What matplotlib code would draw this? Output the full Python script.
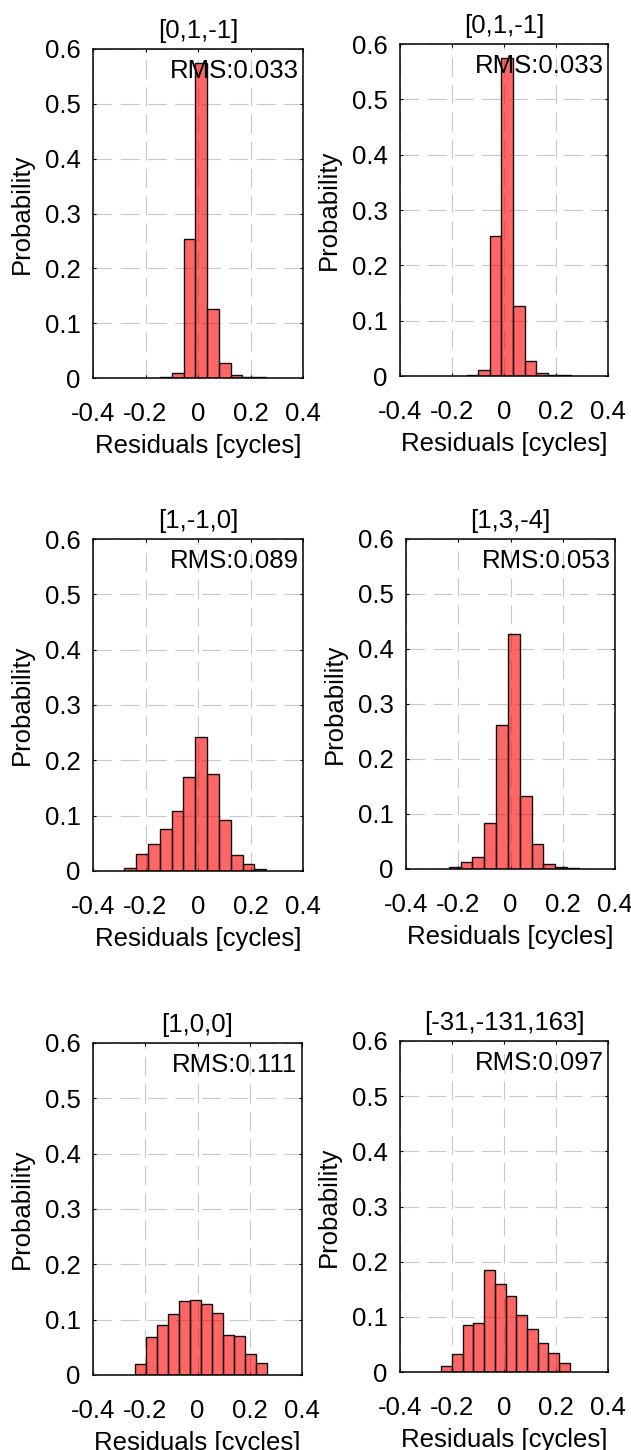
import numpy as np
import matplotlib.pyplot as plt

plt.rcParams['font.family'] = ['Liberation Sans', 'DejaVu Sans']
plt.rcParams['axes.unicode_minus'] = False

# combinations and rms values of the residuals
titles = ['[0,1,-1]', '[0,1,-1]', '[1,-1,0]', '[1,3,-4]', '[1,0,0]', '[-31,-131,163]']
rms = [0.033, 0.033, 0.089, 0.053, 0.111, 0.097]

# histogram bins (left edge of first bin, bin width) and probabilities
bin_start = [-0.1435, -0.1435, -0.2803, -0.2360, -0.2395, -0.2410]
bin_width = [0.0446, 0.0446, 0.0450, 0.0452, 0.0420, 0.0412]

prob_011 = [0.001, 0.010, 0.253, 0.575, 0.126, 0.027, 0.006, 0.002, 0.001]
prob_110 = [0.0054, 0.031, 0.0495, 0.076, 0.1086, 0.170, 0.2425, 0.175,
            0.092, 0.0296, 0.0133, 0.0036]
prob_134 = [0.0036, 0.012, 0.022, 0.084, 0.262, 0.427, 0.133, 0.045,
            0.009, 0.004, 0.001]
prob_100 = [0.0204, 0.068, 0.090, 0.110, 0.133, 0.135, 0.129, 0.112,
            0.072, 0.070, 0.0385, 0.022]
prob_big = [0.0103, 0.0326, 0.0845, 0.0887, 0.1847, 0.160, 0.138, 0.1026,
            0.0785, 0.0525, 0.035, 0.017]
probs = [prob_011, prob_011, prob_110, prob_134, prob_100, prob_big]

xticks = [-0.4, -0.2, 0, 0.2, 0.4]
xticklabels = ['-0.4', '-0.2', '0', '0.2', '0.4']
yticks = [0, 0.1, 0.2, 0.3, 0.4, 0.5, 0.6]
yticklabels = ['0', '0.1', '0.2', '0.3', '0.4', '0.5', '0.6']

W, H = 631, 1450
# axes boxes in pixels: left, top, right, bottom
boxes = [(93, 49, 303, 378), (400, 44, 608, 376),
         (93, 539, 303, 871), (406, 539, 615, 869),
         (93, 1043, 302, 1375), (400, 1041, 608, 1372)]

fs = 18.5
fig = plt.figure(figsize=(W / 100, H / 100), dpi=100)

for i in range(6):
    l, t, r, b = boxes[i]
    ax = fig.add_axes([l / W, 1 - b / H, (r - l) / W, (b - t) / H])
    p = np.array(probs[i])
    lefts = bin_start[i] + bin_width[i] * np.arange(len(p))
    ax.bar(lefts, p, width=bin_width[i], align='edge',
           facecolor=(1, 0, 0, 0.6), edgecolor='#111111', linewidth=1.0, zorder=2)
    ax.set_xlim(-0.4, 0.4)
    ax.set_ylim(0, 0.6)
    ax.set_xticks(xticks)
    ax.set_xticklabels(xticklabels)
    ax.set_yticks(yticks)
    ax.set_yticklabels(yticklabels)
    ax.set_axisbelow(True)
    ax.grid(True, color='#c8c8c8', linewidth=0.8, linestyle=(0, (17, 7.5)))
    ax.tick_params(direction='in', length=2.5, width=0.8, top=True, right=True,
                   labelsize=fs, colors='k')
    ax.tick_params(axis='x', pad=17)
    ax.tick_params(axis='y', pad=9)
    for s in ax.spines.values():
        s.set_linewidth(1.1)
    ax.set_title(titles[i], fontsize=fs, pad=8)
    ax.set_xlabel('Residuals [cycles]', fontsize=fs, labelpad=6)
    ax.set_ylabel('Probability', fontsize=fs, labelpad=8)
    ax.text(0.978, 0.912, 'RMS:%.3f' % rms[i], transform=ax.transAxes,
            ha='right', va='baseline', fontsize=fs, zorder=5)

fig.savefig('out.png', dpi=100)
